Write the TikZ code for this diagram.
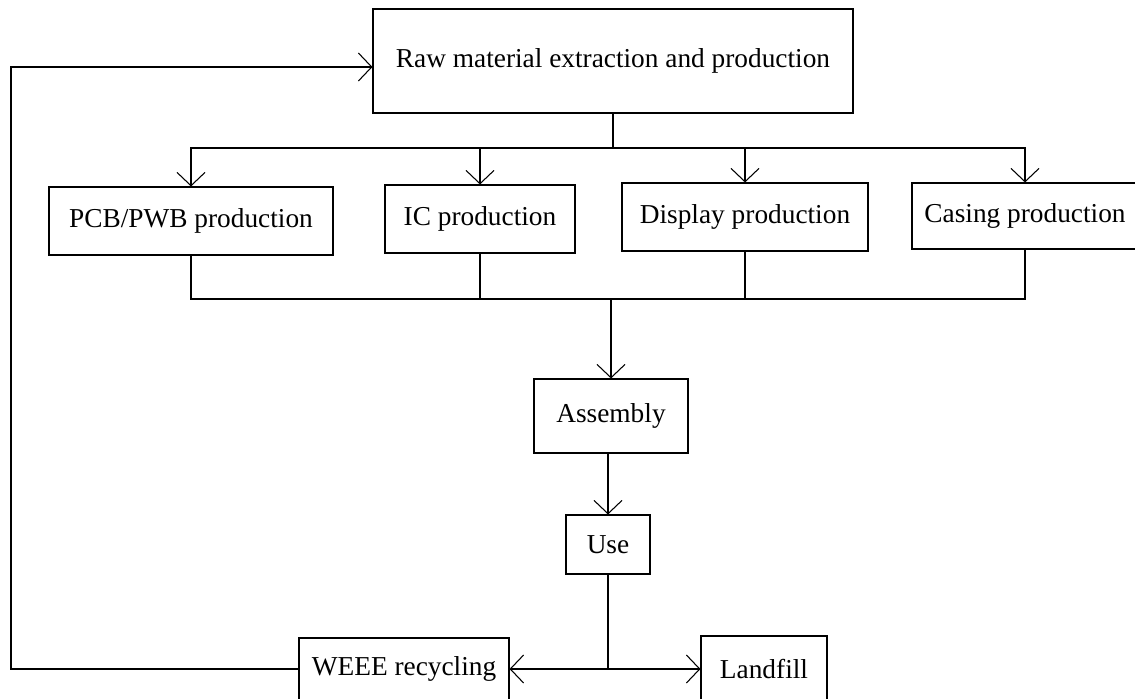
\documentclass[tikz,border=0pt]{standalone}
\usepackage{fontspec}
\setmainfont{Liberation Serif}
\usetikzlibrary{positioning, calc}
\usetikzlibrary{arrows.meta}

\tikzset{
    fase/.style = {draw, line width=0.8pt, inner sep=2pt, align=center,
                   font=\fontsize{20.5}{24}\selectfont},
    freccia/.style = {line width=0.8pt, -{Straight Barb[length=10pt, width=21pt, line width=0.8pt]}},
    linea/.style = {line width=0.8pt}
}

\begin{document}
\begin{tikzpicture}[x = 0.75pt, y = -0.75pt]

    % Area visibile
    \clip (0,0) rectangle (1135,699);
    \fill[white] (0,0) rectangle (1135,699);

    % Materie prime
    \node[fase, minimum width=360pt, minimum height=78pt] (raw) at (613,61)
        {Raw material extraction and production};

    % Produzione dei componenti
    \node[fase, minimum width=213pt, minimum height=51pt] (pcb) at (191,221) {PCB/PWB production};
    \node[fase, minimum width=142.5pt, minimum height=51pt] (ic) at (480,219) {IC production};
    \node[fase, minimum width=184.5pt, minimum height=51pt] (disp) at (745,217) {Display production};
    \node[fase, minimum width=169.5pt, minimum height=49.5pt] (casing) at (1025,216) {Casing production};

    % Assemblaggio e uso
    \node[fase, minimum width=115.5pt, minimum height=55.5pt] (assembly) at (611,416) {Assembly};
    \node[fase, minimum width=63pt, minimum height=44.25pt] (use) at (608,544.5) {Use};

    % Fine vita
    \node[fase, minimum width=157.5pt, minimum height=46.5pt] (weee) at (404,669) {WEEE recycling};
    \node[fase, minimum width=94.5pt, minimum height=49.5pt] (landfill) at (764,669) {Landfill};

    % Punti di diramazione
    \coordinate (split) at (613,148);
    \coordinate (merge) at (611,299);
    \coordinate (fork) at (use.south |- weee.east);
    \coordinate (loop) at (11,67);

    % Dalle materie prime ai componenti
    \draw[linea] (raw.south) -- (split);
    \foreach \k in {pcb, ic, disp, casing}
        \draw[freccia] (split) -| (\k.north);

    % Dai componenti all'assemblaggio
    \foreach \k in {pcb, ic, disp, casing}
        \draw[linea] (\k.south) |- (merge);
    \draw[freccia] (merge) -- (assembly.north);
    \draw[freccia] (assembly.south -| use.north) -- (use.north);

    % Riciclo o discarica
    \draw[linea] (use.south) -- (fork);
    \draw[freccia] (fork) -- (weee.east);
    \draw[freccia] (fork) -- (landfill.west);

    % Ritorno alle materie prime
    \draw[freccia] (weee.west) -| (loop) -- ($(raw.west)+(0,6)$);

\end{tikzpicture}
\end{document}
